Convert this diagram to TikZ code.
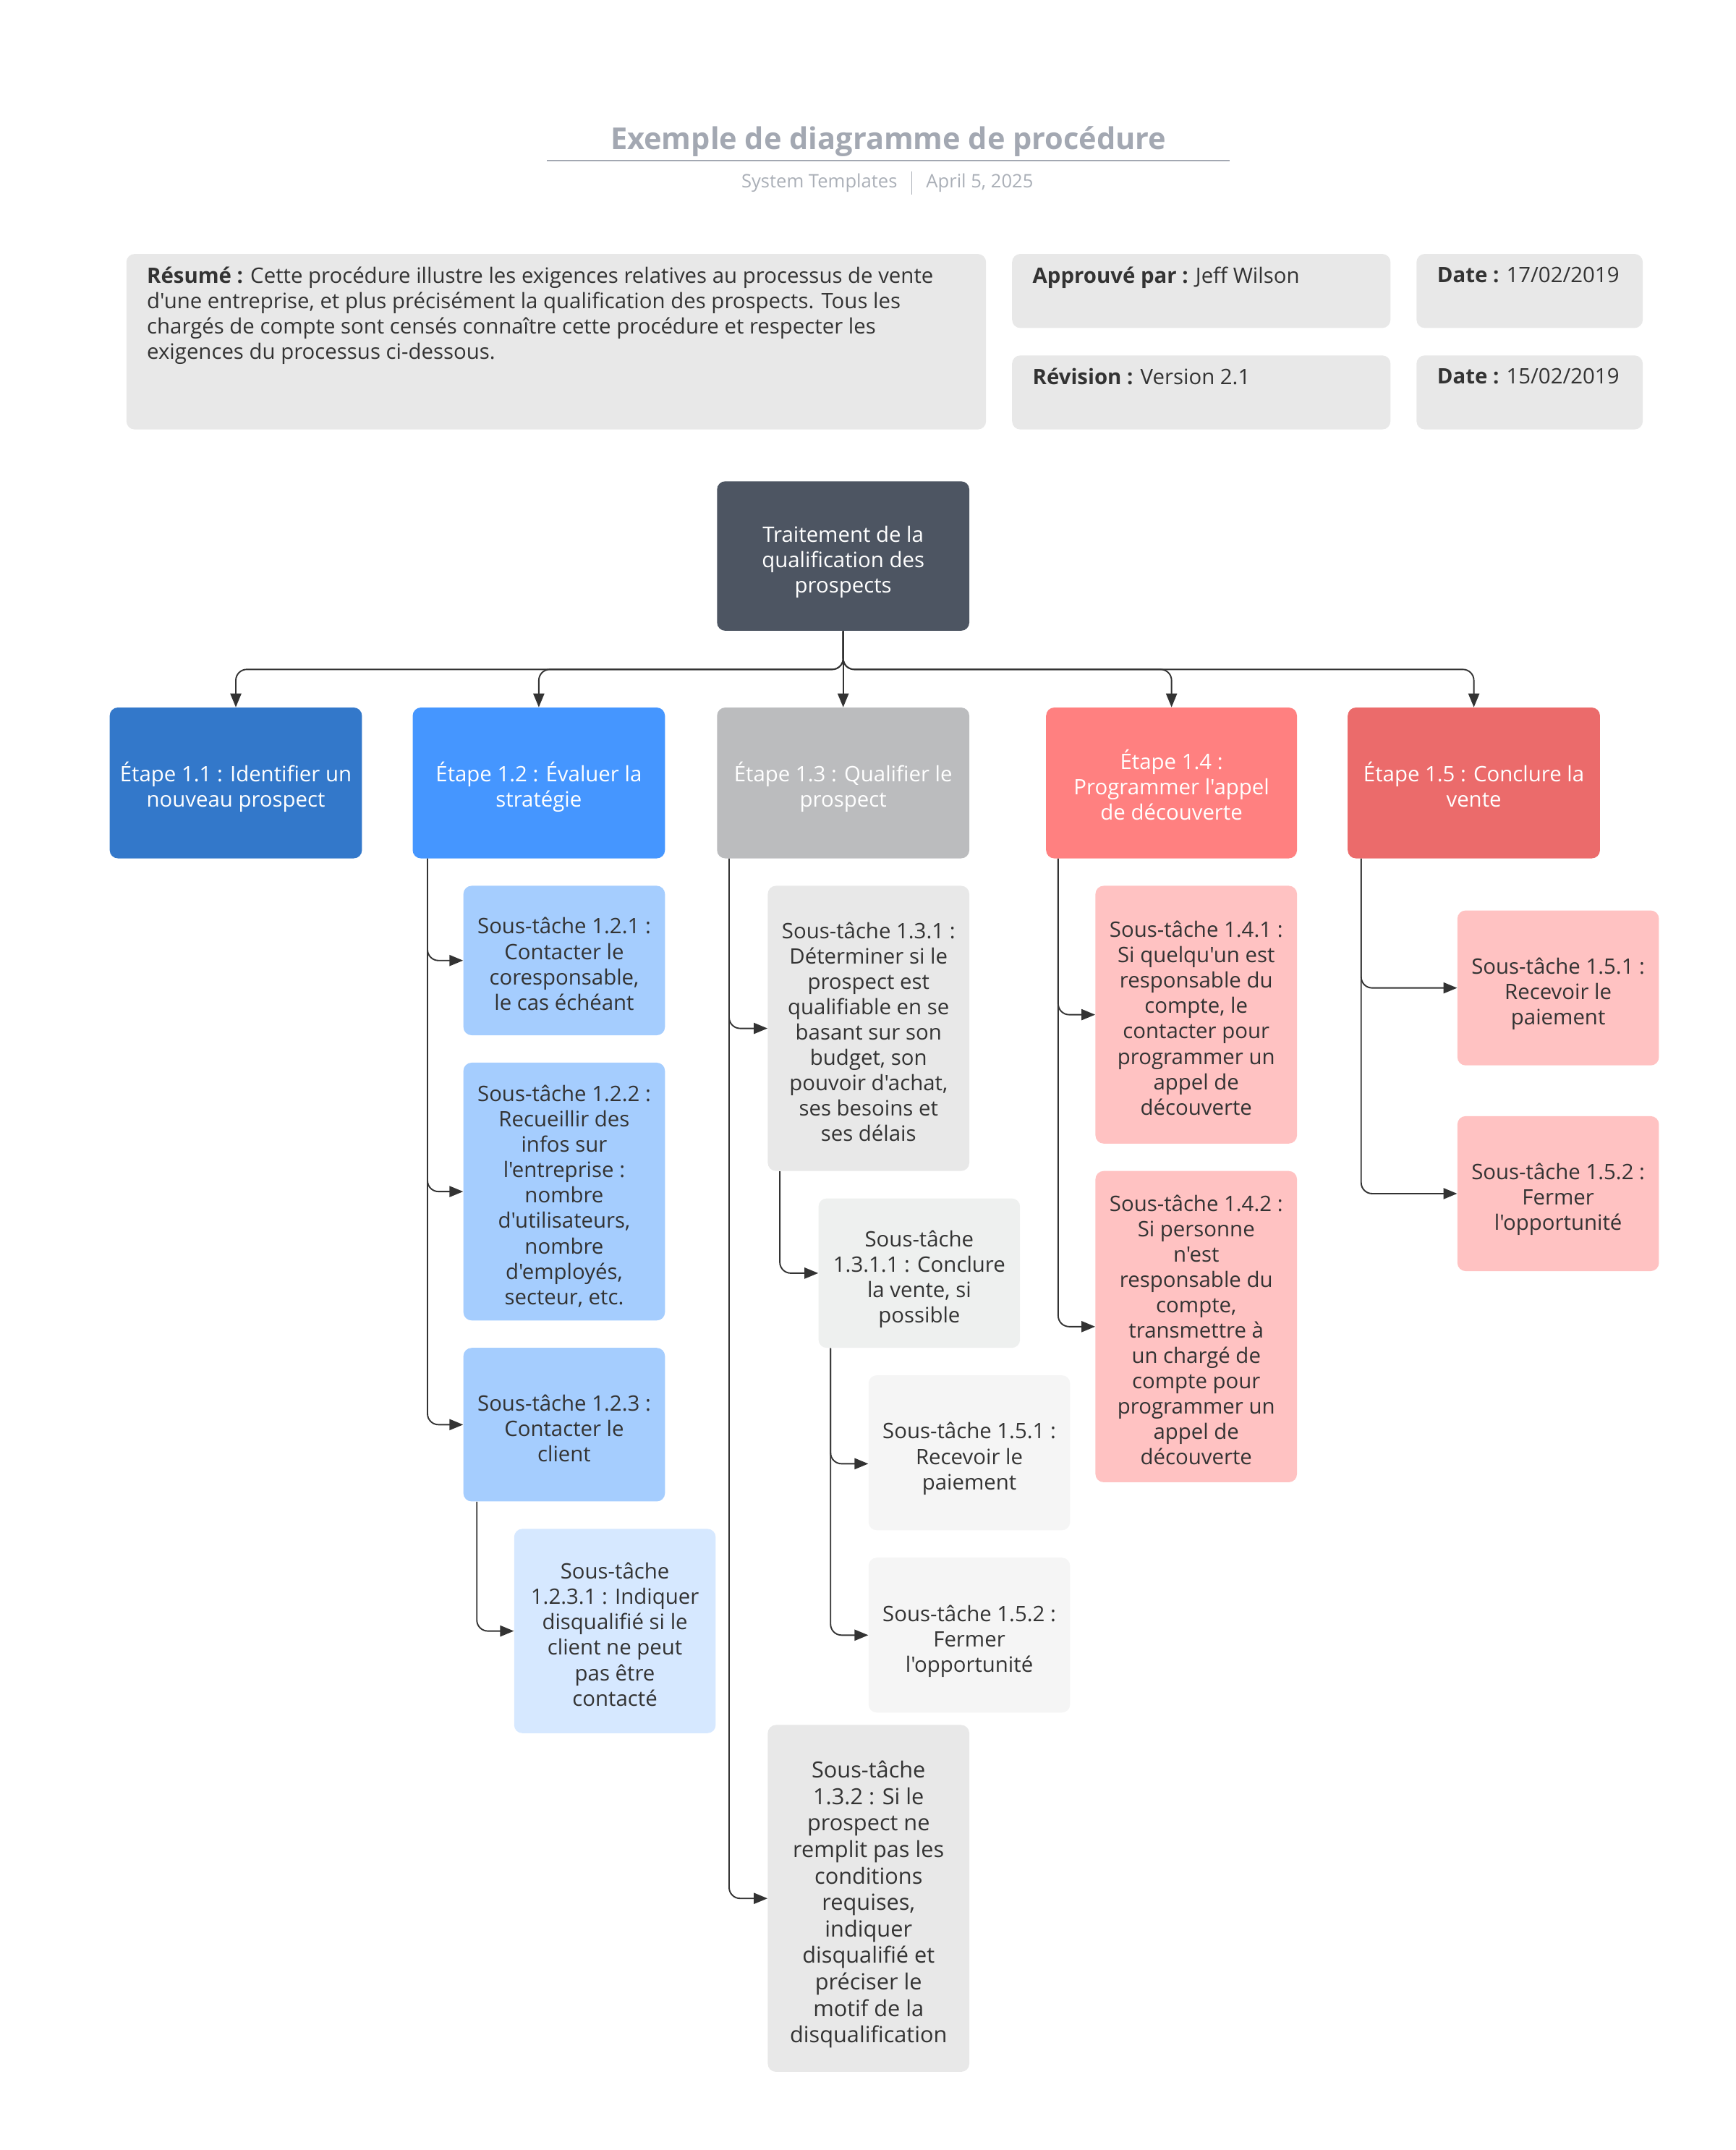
\documentclass[tikz,border=0pt]{standalone}
\usepackage{fontspec}
\setmainfont{Open Sans}[Ligatures=TeXOff]
\usetikzlibrary{positioning,calc,arrows.meta}

\definecolor{ink}{HTML}{333333}
\definecolor{titlegray}{HTML}{A3A8B2}
\definecolor{subgray}{HTML}{AAAFB7}
\definecolor{hdrfill}{HTML}{E8E8E8}
\definecolor{rootfill}{HTML}{4D5562}
\definecolor{blueA}{HTML}{3378CA}
\definecolor{blueB}{HTML}{4596FF}
\definecolor{grayC}{HTML}{BBBCBE}
\definecolor{redD}{HTML}{FF8080}
\definecolor{redE}{HTML}{EB6B6B}
\definecolor{blueL}{HTML}{A5CDFE}
\definecolor{blueLL}{HTML}{D6E8FF}
\definecolor{grayL}{HTML}{E8E8E8}
\definecolor{grayLL}{HTML}{EEF0EF}
\definecolor{grayLLL}{HTML}{F5F5F5}
\definecolor{pinkL}{HTML}{FFC2C2}

% line boxes of fixed height, so the text sits as in the reference
\newcommand{\bt}{\rule{0pt}{1.32em}}
\newcommand{\et}{\rule[-0.245em]{0pt}{0.245em}}

\tikzset{
  txt/.style={font=\fontsize{15.5pt}{18.5pt}\selectfont},
  hdrbox/.style={fill=hdrfill, rounded corners=6pt, anchor=north west},
  hdrtext/.style={txt, text=ink, anchor=north west, align=left, inner sep=0pt},
  stagebox/.style={txt, rounded corners=6pt, text=white, align=center,
    minimum width=184pt, minimum height=110pt, inner sep=2pt},
  taskbox/.style={txt, rounded corners=6pt, text=ink, align=center,
    minimum width=147pt, inner sep=2pt},
  conn/.style={draw=ink, line width=1pt, rounded corners=8pt,
    -{Triangle[length=10pt,width=8pt]}},
}

\begin{document}
\begin{tikzpicture}[x=1pt,y=-1pt]
\useasboundingbox (0,0) rectangle (1266,1568);

% title
\node (title) at (648,103) {\textcolor{titlegray}{\bfseries\fontsize{21.9pt}{26pt}\selectfont Exemple de diagramme de procédure}};
\draw[titlegray, line width=1.3pt] (399,117) -- (897,117);
\node[anchor=east, text=subgray, font=\fontsize{13.5pt}{15pt}\selectfont] (org) at (658,133.5) {System Templates};
\node[anchor=west, text=subgray, font=\fontsize{13.5pt}{15pt}\selectfont] (day) at (672,133.5) {April 5, 2025};
\draw[subgray, line width=0.7pt] (665,125) -- (665,142);

% header
\node[hdrbox, minimum width=627pt, minimum height=128pt] (summary) at (92,185) {};
\node[hdrtext] (summarytxt) at ([shift={(15,9.5)}]summary.north west)
  {\textbf{Résumé :} Cette procédure illustre les exigences relatives au processus de vente\\
   d'une entreprise, et plus précisément la qualification des prospects. Tous les\\
   chargés de compte sont censés connaître cette procédure et respecter les\\
   exigences du processus ci-dessous.};
\node[hdrbox, minimum width=276pt, minimum height=54pt] (approved) at (738,185) {};
\node[hdrtext] (approvedtxt) at ([shift={(15,9.5)}]approved.north west) {\textbf{Approuvé par :} Jeff Wilson};
\node[hdrbox, minimum width=165pt, minimum height=54pt] (dateA) at (1033,185) {};
\node[hdrtext] (dateAtxt) at ([shift={(15,9.5)}]dateA.north west) {\textbf{Date :} 17/02/2019};
\node[hdrbox, minimum width=276pt, minimum height=54pt] (revision) at (738,259) {};
\node[hdrtext] (revisiontxt) at ([shift={(15,9.5)}]revision.north west) {\textbf{Révision :} Version 2.1};
\node[hdrbox, minimum width=165pt, minimum height=54pt] (dateB) at (1033,259) {};
\node[hdrtext] (dateBtxt) at ([shift={(15,9.5)}]dateB.north west) {\textbf{Date :} 15/02/2019};

% root and stages
\node[stagebox, fill=rootfill, minimum height=109pt] (root) at (615,405.5)
  {\bt Traitement de la\\ qualification des\\ prospects\et};
\node[stagebox, fill=blueA] (s11) at (172,571) {\bt Étape 1.1 : Identifier un\\nouveau prospect\et};
\node[stagebox, fill=blueB] (s12) at (393,571) {\bt Étape 1.2 : Évaluer la\\stratégie\et};
\node[stagebox, fill=grayC] (s13) at (615,571) {\bt Étape 1.3 : Qualifier le\\prospect\et};
\node[stagebox, fill=redD, minimum width=183pt] (s14) at (854.5,571) {\bt Étape 1.4 :\\Programmer l'appel\\de découverte\et};
\node[stagebox, fill=redE] (s15) at (1075,571) {\bt Étape 1.5 : Conclure la\\vente\et};

\draw[conn] (root.south) -- ++(0,28) -| (s11.north);
\draw[conn] (root.south) -- ++(0,28) -| (s12.north);
\draw[conn] (root) -- (s13);
\draw[conn] (root.south) -- ++(0,28) -| (s14.north);
\draw[conn] (root.south) -- ++(0,28) -| (s15.north);

% etape 1.2
\node[taskbox, fill=blueL, minimum height=109pt] (t121) at (411.5,700.5)
  {\bt Sous-tâche 1.2.1 :\\Contacter le\\coresponsable,\\le cas échéant\et};
\node[taskbox, fill=blueL, minimum height=188pt] (t122) at (411.5,869)
  {\bt Sous-tâche 1.2.2 :\\Recueillir des\\infos sur\\l'entreprise :\\nombre\\d'utilisateurs,\\nombre\\d'employés,\\secteur, etc.\et};
\node[taskbox, fill=blueL, minimum height=112pt] (t123) at (411.5,1039)
  {\bt Sous-tâche 1.2.3 :\\Contacter le\\client\et};
\node[taskbox, fill=blueLL, minimum height=149pt] (t1231) at (448.5,1189.5)
  {\bt Sous-tâche\\1.2.3.1 : Indiquer\\disqualifié si le\\client ne peut\\pas être\\contacté\et};
\draw[conn] ($(s12.south west)+(11,0)$) |- (t121.west);
\draw[conn] ($(s12.south west)+(11,0)$) |- (t122.west);
\draw[conn] ($(s12.south west)+(11,0)$) |- (t123.west);
\draw[conn] ($(t123.south west)+(10,0)$) |- (t1231.west);

% etape 1.3
\node[taskbox, fill=grayL, minimum height=208pt] (t131) at (633.5,750)
  {\bt Sous-tâche 1.3.1 :\\Déterminer si le\\prospect est\\qualifiable en se\\basant sur son\\budget, son\\pouvoir d'achat,\\ses besoins et\\ses délais\et};
\node[taskbox, fill=grayLL, minimum height=109pt] (t1311) at (670.5,928.5)
  {\bt Sous-tâche\\1.3.1.1 : Conclure\\la vente, si\\possible\et};
\node[taskbox, fill=grayLLL, minimum height=113pt] (t1311a) at (707,1059.5)
  {\bt Sous-tâche 1.5.1 :\\Recevoir le\\paiement\et};
\node[taskbox, fill=grayLLL, minimum height=113pt] (t1311b) at (707,1192.5)
  {\bt Sous-tâche 1.5.2 :\\Fermer\\l'opportunité\et};
\node[taskbox, fill=grayL, minimum height=253pt, font=\fontsize{16.2pt}{19.3pt}\selectfont] (t132) at (633.5,1384.5)
  {\bt Sous-tâche\\1.3.2 : Si le\\prospect ne\\remplit pas les\\conditions\\requises,\\indiquer\\disqualifié et\\préciser le\\motif de la\\disqualification\et};
\draw[conn] ($(s13.south west)+(9,0)$) |- (t131.west);
\draw[conn] ($(s13.south west)+(9,0)$) |- (t132.west);
\draw[conn] ($(t131.south west)+(9,0)$) |- (t1311.west);
\draw[conn] ($(t1311.south west)+(9,0)$) |- ([yshift=-8pt]t1311a.west);
\draw[conn] ($(t1311.south west)+(9,0)$) |- (t1311b.west);

% etape 1.4
\node[taskbox, fill=pinkL, minimum height=188pt] (t141) at (872.5,740)
  {\bt Sous-tâche 1.4.1 :\\Si quelqu'un est\\responsable du\\compte, le\\contacter pour\\programmer un\\appel de\\découverte\et};
\node[taskbox, fill=pinkL, minimum height=227pt] (t142) at (872.5,967.5)
  {\bt Sous-tâche 1.4.2 :\\Si personne\\n'est\\responsable du\\compte,\\transmettre à\\un chargé de\\compte pour\\programmer un\\appel de\\découverte\et};
\draw[conn] ($(s14.south west)+(9,0)$) |- (t141.west);
\draw[conn] ($(s14.south west)+(9,0)$) |- (t142.west);

% etape 1.5
\node[taskbox, fill=pinkL, minimum height=113pt] (t151) at (1136.5,720.5)
  {\bt Sous-tâche 1.5.1 :\\Recevoir le\\paiement\et};
\node[taskbox, fill=pinkL, minimum height=113pt] (t152) at (1136.5,870.5)
  {\bt Sous-tâche 1.5.2 :\\Fermer\\l'opportunité\et};
\draw[conn] ($(s15.south west)+(10,0)$) |- (t151.west);
\draw[conn] ($(s15.south west)+(10,0)$) |- (t152.west);
\end{tikzpicture}
\end{document}
